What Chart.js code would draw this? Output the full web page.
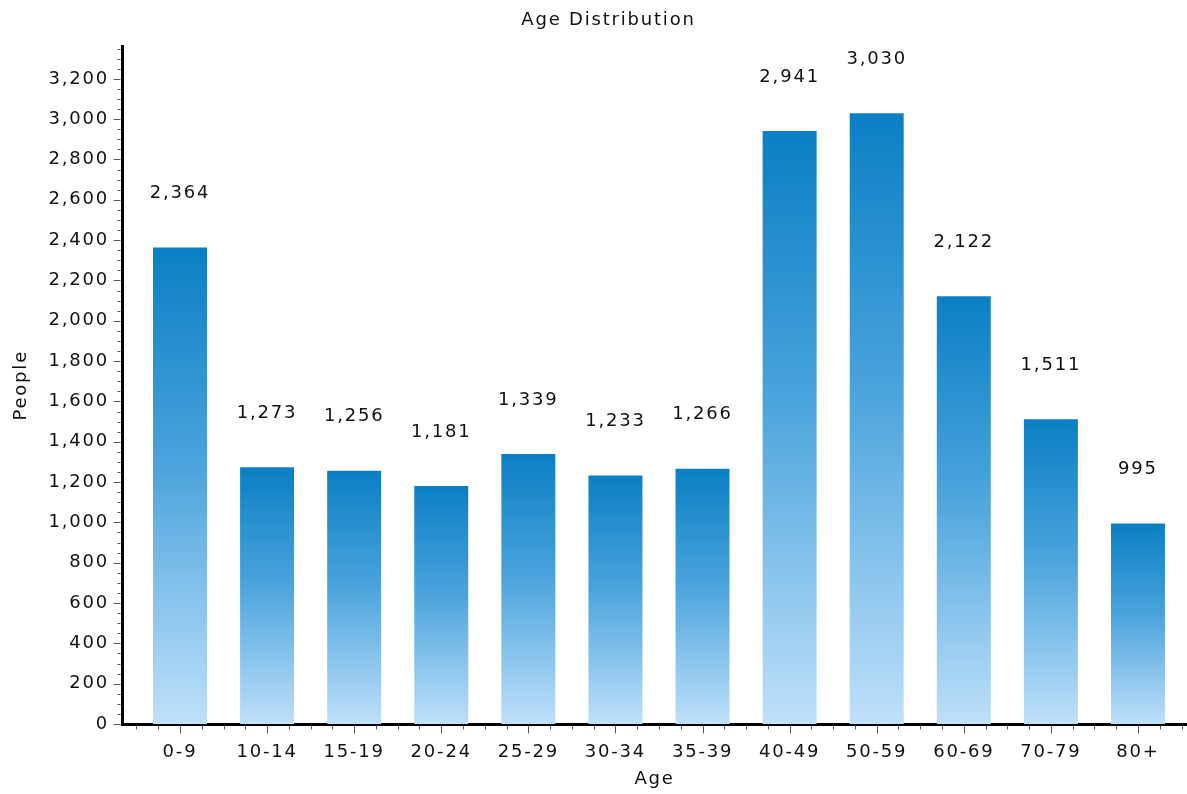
<!DOCTYPE html>
<html>
<head>
<meta charset="utf-8">
<title>Age Distribution</title>
<script src="https://cdn.jsdelivr.net/npm/chart.js@4.4.1/dist/chart.umd.min.js"></script>
<style>
  html, body { margin: 0; padding: 0; background: #fff; }
  #wrap { width: 1187px; height: 794px; }
</style>
</head>
<body>
<div id="wrap"><canvas id="chart" width="1187" height="794"></canvas></div>
<script>
"use strict";

// ── Data ──────────────────────────────────────────────────────────────────────
const ageGroups = ["0-9", "10-14", "15-19", "20-24", "25-29", "30-34",
                   "35-39", "40-49", "50-59", "60-69", "70-79", "80+"];
const people    = [2364, 1273, 1256, 1181, 1339, 1233,
                   1266, 2941, 3030, 2122, 1511, 995];
const yTicks    = [0, 200, 400, 600, 800, 1000, 1200, 1400, 1600,
                   1800, 2000, 2200, 2400, 2600, 2800, 3000, 3200];

// ── Look ──────────────────────────────────────────────────────────────────────
const FONT = "'DejaVu Sans', Verdana, sans-serif";
const LETTER_SPACING = "1.8px";
const C = {
  text:      "#111111",
  axis:      "#000000",
  tick:      "#555555",
  barTop:    "#0b7fc4",
  barMid:    "#4aa3dc",
  barBottom: "#bfe0fa",
};

Chart.defaults.font.family = FONT;
Chart.defaults.font.size   = 18;
Chart.defaults.color       = C.text;

const fmt = v => Number(v).toLocaleString("en-US");

// per-bar vertical gradient, dark at the top of each bar
function barGradient(c) {
  const y = c.chart.scales.y;
  if (!y || !c.parsed) return C.barTop;
  const top    = y.getPixelForValue(c.parsed.y);
  const bottom = y.getPixelForValue(0);
  if (!isFinite(top) || !isFinite(bottom) || top === bottom) return C.barTop;
  const g = c.chart.ctx.createLinearGradient(0, top, 0, bottom);
  g.addColorStop(0,    C.barTop);
  g.addColorStop(0.45, C.barMid);
  g.addColorStop(1,    C.barBottom);
  return g;
}

// ── Plugins ───────────────────────────────────────────────────────────────────

// the original text is slightly spaced out
const spacing = {
  id: "spacing",
  beforeLayout(chart) { chart.ctx.letterSpacing = LETTER_SPACING; },
  beforeDraw(chart)   { chart.ctx.letterSpacing = LETTER_SPACING; },
};

// title sits a bit right of the canvas centre
const titleShift = {
  id: "titleShift",
  afterLayout(chart) {
    const t = chart.titleBlock;
    if (t) { t.left += 15; t.right += 15; }
  },
};

// major + minor tick marks on both axes
const axisTicks = {
  id: "axisTicks",
  afterDraw(chart) {
    const { ctx, scales: { x, y } } = chart;
    ctx.save();
    ctx.strokeStyle = C.tick;
    ctx.lineWidth   = 1;
    ctx.beginPath();

    const yEdge = x.top + 1.5;
    for (let v = -0.5; v <= ageGroups.length - 0.5; v += 0.25) {
      const px  = Math.round(x.getPixelForValue(v)) + 0.5;
      const len = Number.isInteger(v) ? 8 : 4;
      ctx.moveTo(px, yEdge);
      ctx.lineTo(px, yEdge + len);
    }

    const xEdge = y.right - 1.5;
    for (let v = 0; v <= y.max; v += 50) {
      const py  = Math.round(y.getPixelForValue(v)) + 0.5;
      const len = v % 200 === 0 ? 7 : 3;
      ctx.moveTo(xEdge, py);
      ctx.lineTo(xEdge - len, py);
    }

    ctx.stroke();
    ctx.restore();
  },
};

// value printed above each bar
const valueLabels = {
  id: "valueLabels",
  afterDatasetsDraw(chart) {
    const { ctx } = chart;
    const meta = chart.getDatasetMeta(0);
    ctx.save();
    ctx.font         = `18px ${FONT}`;
    ctx.fillStyle    = C.text;
    ctx.textAlign    = "center";
    ctx.textBaseline = "middle";
    meta.data.forEach((bar, i) => {
      ctx.fillText(fmt(people[i]), bar.x, bar.y - 54);
    });
    ctx.restore();
  },
};

// ── Chart ─────────────────────────────────────────────────────────────────────

new Chart(document.getElementById("chart"), {
  type: "bar",
  data: {
    datasets: [{
      label:              "People",
      data:               people.map((v, i) => ({ x: i, y: v })),
      backgroundColor:    barGradient,
      borderWidth:        0,
      barPercentage:      0.62,
      categoryPercentage: 1,
    }],
  },
  options: {
    responsive: false,
    animation:  false,
    events:     [],
    layout:     { padding: 0 },
    plugins: {
      legend:  { display: false },
      tooltip: { enabled: false },
      title: {
        display: true,
        text:    "Age Distribution",
        color:   C.text,
        font:    { size: 18, weight: "normal" },
        padding: { top: 10, bottom: 15 },
      },
    },
    scales: {
      x: {
        type:   "linear",
        min:    -0.666,
        max:    11.563,
        offset: false,
        grid:   { display: false, drawTicks: false, offset: false },
        border: { display: true, color: C.axis, width: 3 },
        ticks: {
          stepSize:      1,
          includeBounds: false,
          autoSkip:      false,
          maxRotation:   0,
          padding:       18,
          color:         C.text,
          callback:      v => ageGroups[v] ?? "",
        },
        title: {
          display: true,
          text:    "Age",
          color:   C.text,
          padding: { top: 0, bottom: 4 },
        },
        afterFit: s => { s.height = 70; },
      },
      y: {
        min:    0,
        max:    3360,
        grid:   { display: false, drawTicks: false },
        border: { display: true, color: C.axis, width: 3 },
        ticks: {
          padding:  13,
          color:    C.text,
          callback: v => fmt(v),
        },
        afterBuildTicks: s => { s.ticks = yTicks.map(value => ({ value })); },
        title: {
          display: true,
          text:    "People",
          color:   C.text,
          padding: { top: 11, bottom: 0 },
        },
        afterFit: s => { s.width = 122; },
      },
    },
  },
  plugins: [spacing, titleShift, axisTicks, valueLabels],
});
</script>
</body>
</html>
